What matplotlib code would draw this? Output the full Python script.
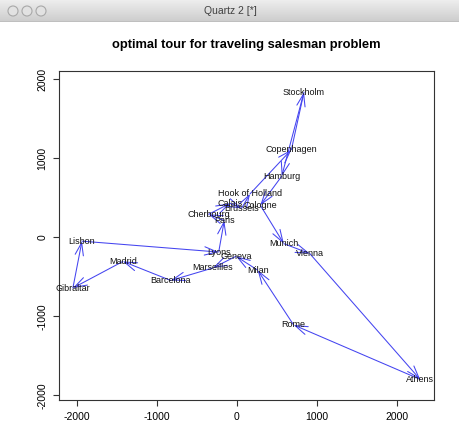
import matplotlib
matplotlib.use("Agg")
import matplotlib.pyplot as plt
import numpy as np
from matplotlib.patches import Circle

plt.rcParams['font.family'] = ['Liberation Sans', 'DejaVu Sans']

cities = ["Athens", "Barcelona", "Brussels", "Calais", "Cherbourg", "Cologne",
          "Copenhagen", "Geneva", "Gibraltar", "Hamburg", "Hook of Holland",
          "Lisbon", "Lyons", "Madrid", "Marseilles", "Milan", "Munich", "Paris",
          "Rome", "Stockholm", "Vienna"]
x_coord = [2290.27, -825.38, 59.18, -82.85, -352.50, 293.69, 681.93, -9.42,
           -2048.45, 561.11, 164.92, -1935.04, -226.42, -1423.35, -299.50,
           260.88, 587.68, -156.84, 709.41, 839.45, 911.23]
y_coord = [-1798.80, -546.81, 367.08, 429.91, 290.91, 405.31, 1108.64, -240.41,
           -642.46, 773.37, 549.37, -49.13, -187.09, -305.88, -388.81, -416.67,
           -81.18, 211.14, -1109.37, 1836.79, -205.93]
tour = ["Hook of Holland", "Copenhagen", "Stockholm", "Hamburg", "Cologne",
        "Munich", "Vienna", "Athens", "Rome", "Milan", "Geneva", "Marseilles",
        "Barcelona", "Madrid", "Gibraltar", "Lisbon", "Lyons", "Paris",
        "Cherbourg", "Calais", "Brussels"]
x_ticks = [-2000, -1000, 0, 1000, 2000]
y_ticks = [-2000, -1000, 0, 1000, 2000]

W, H = 460, 425
fig = plt.figure(figsize=(W / 100, H / 100), dpi=100)
fig.patch.set_facecolor('white')

# window title bar
bar_h = 22
bax = fig.add_axes([0, 1 - bar_h / H, 1, bar_h / H])
grad = np.linspace(0.93, 0.80, 50).reshape(-1, 1)
bax.imshow(grad, cmap='gray', vmin=0, vmax=1, aspect='auto',
           extent=[0, W, bar_h, 0])
bax.set_xlim(0, W)
bax.set_ylim(bar_h, 0)
bax.axis('off')
bax.axhline(bar_h - 0.5, color='#8a8a8a', lw=1)
for cx in [13, 27, 41]:
    bax.add_patch(Circle((cx, 11), 5, facecolor='#e2e2e2', edgecolor='#a8a8a8', lw=0.8))
bax.text(W / 2, 11.5, "Quartz 2 [*]", ha='center', va='center', fontsize=7.5,
         color='#404040')

# main plot
left, right, top, bottom = 59, 434, 71, 400
ax = fig.add_axes([left / W, 1 - bottom / H, (right - left) / W, (bottom - top) / H])
ax.set_xlim(-2222, 2464)
ax.set_ylim(-2060, 2105)

idx = {c: i for i, c in enumerate(cities)}
n = len(tour)
for k in range(n):
    a = idx[tour[k]]
    b = idx[tour[(k + 1) % n]]
    ax.annotate('', xy=(x_coord[b], y_coord[b]), xytext=(x_coord[a], y_coord[a]),
                arrowprops=dict(arrowstyle='->,head_length=0.9,head_width=0.3',
                                color='#4444f0', lw=0.75, shrinkA=0, shrinkB=0))

for c, xv, yv in zip(cities, x_coord, y_coord):
    ax.text(xv, yv, c, ha='center', va='center', fontsize=6.5, color='#111111')

ax.set_xticks(x_ticks)
ax.set_yticks(y_ticks)
ax.set_xticklabels([str(t) for t in x_ticks], fontsize=7.5)
ax.set_yticklabels([str(t) for t in y_ticks], fontsize=7.5, rotation=90, va='center')
ax.tick_params(direction='out', length=4.5, width=0.8, color='#333333', pad=4)
for s in ax.spines.values():
    s.set_color('#333333')
    s.set_linewidth(0.8)

fig.text((left + right) / 2 / W, 1 - 45 / H, "optimal tour for traveling salesman problem",
         ha='center', va='center', fontsize=9.3, fontweight='bold')

fig.savefig('out.png', dpi=100)
